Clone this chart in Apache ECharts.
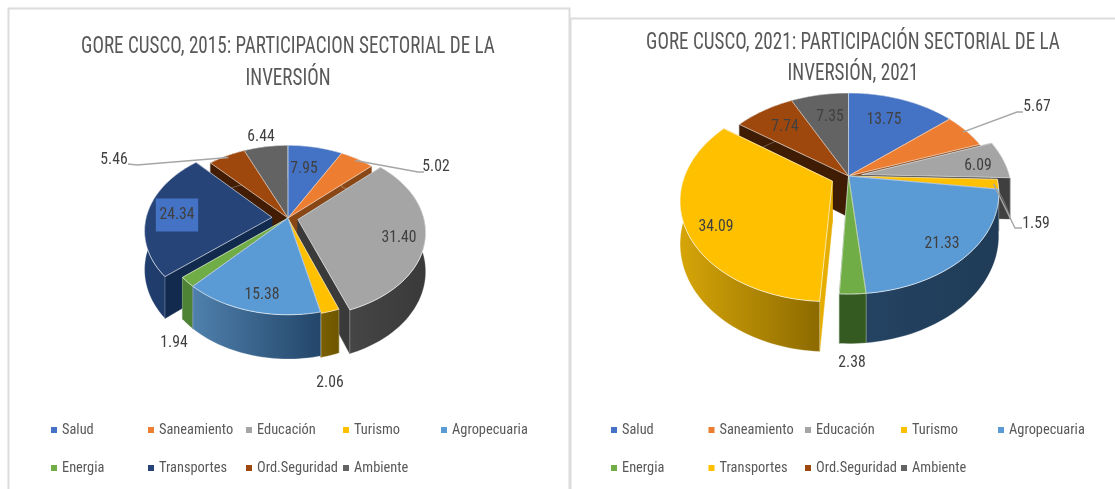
<!DOCTYPE html>
<html><head><meta charset="utf-8">
<style>html,body{margin:0;padding:0;background:#fff}#c{width:1115px;height:489px}</style>
<script src="https://cdn.jsdelivr.net/npm/echarts@6/dist/echarts.min.js"></script>
</head><body><div id="c"></div>
<script>
const categories = ['Salud','Saneamiento','Educación','Turismo','Agropecuaria','Energia','Transportes','Ord.Seguridad','Ambiente'];
const values2015 = [7.95,5.02,31.40,2.06,15.38,1.94,24.34,5.46,6.44];
const values2021 = [13.75,5.67,6.09,1.59,21.33,2.38,34.09,7.74,7.35];
const labels2015 = ['7.95','5.02','31.40','2.06','15.38','1.94','24.34','5.46','6.44'];
const labels2021 = ['13.75','5.67','6.09','1.59','21.33','2.38','34.09','7.74','7.35'];
const title2015 = 'GORE CUSCO, 2015: PARTICIPACION SECTORIAL DE LA\nINVERSIÓN';
const title2021 = 'GORE CUSCO, 2021: PARTICIPACIÓN SECTORIAL DE LA\nINVERSIÓN, 2021';

// styles: [outer wall left, outer wall right, radial wall]
const top2015 = ['#4472c4','#ed7d31','#a5a5a5','#ffc000','#5b9bd5','#70ad47','#264478','#9e480e','#636363'];
const top2021 = ['#4472c4','#ed7d31','#a5a5a5','#ffc000','#5b9bd5','#70ad47','#ffc000','#9e480e','#636363'];
const wall2015 = [['#24406f','#24406f','#24406f'],['#8a4716','#8a4716','#8a4716'],['#454545','#3a3a3a','#3a3a3a'],['#7a6000','#6e5600','#6e5600'],['#4f80ad','#234669','#234669'],['#4e8234','#4e8234','#3c6226'],['#1f3d6e','#1f3864','#122a4e'],['#421d04','#421d04','#421d04'],['#333','#333','#333']];
const wall2021 = [['#24406f','#24406f','#24406f'],['#8a4716','#8a4716','#8a4716'],['#3f3f3f','#3f3f3f','#3f3f3f'],['#c49a10','#8a6a00','#8a6a00'],['#244362','#1f3b57','#1f3b57'],['#345a22','#345a22','#345a22'],['#d6a508','#8c6a00','#e6ae00'],['#3f1c04','#3f1c04','#3f1c04'],['#333','#333','#333']];

// layout of each pie: centre, radii, perspective, depth, per-slice explosion
const geo2015 = {cx:288,cy:218,rx:126,ry:83,k:0.142,d:38,explode:[0,0,0.08,0.012,0,0,0.127,0,0]};
const geo2021 = {cx:848.5,cy:176,rx:148,ry:97.5,k:0.174,d:41,explode:[0,0,0.09,0,0,0,0.12,0,0]};
const labelPos2015 = [[304,169],[436,167],[399,238],[330,383],[262,295],[174,343],[177,215],[114,160],[261,137]];
const labelPos2021 = [[884,120],[1037,107],[978,166],[1036,224],[942,244],[852,363],[716,227],[785,127],[830,117]];
const leader2015 = {1:[[418,172],[424,172]],7:[[137,165],[128,164]]};
const leader2021 = {1:[[1017,112],[1023,112]],3:[[1015,228],[1022,228]]};
const legendX2015 = [54,151,249,346,444,54,151,249,346];
const legendX2021 = [614,711.5,808,904,1001,614,711.5,808,904];
const legendY = [429,429,429,429,429,467,467,467,467];
const FONT = '"Roboto Condensed","Liberation Sans Narrow",Roboto,sans-serif';
const TEXT_SQUEEZE = 0.92, TITLE_SQUEEZE = 0.78;

function makePie(values, labels, tops, walls, g, labelPos, leaders){
  const total = values.reduce((a,b)=>a+b,0);
  const ang = []; let acc = 0;
  values.forEach(v=>{const a0=acc/total*2*Math.PI; acc+=v; ang.push([a0,acc/total*2*Math.PI]);});
  const P = (t,r,i,depth)=>{
    const m=(ang[i][0]+ang[i][1])/2, e=g.explode[i];
    const X=r*Math.sin(t)+e*Math.sin(m), Y=-r*Math.cos(t)-e*Math.cos(m);
    const s=1/(1-g.k*Y);
    return [g.cx+g.rx*X*s, g.cy+g.ry*Y*s+depth*g.d*s];
  };
  const order = values.map((_,i)=>i).sort((a,b)=>
    (-Math.cos((ang[a][0]+ang[a][1])/2))-(-Math.cos((ang[b][0]+ang[b][1])/2)));
  return order.map((i,rank)=>({
    type:'custom', name:categories[i], coordinateSystem:'none', silent:true, animation:false,
    itemStyle:{color:tops[i]}, data:[[values[i]]],
    renderItem(params,api){
      const t0=ang[i][0], t1=t0+api.value(0)/total*2*Math.PI, n=Math.max(6,Math.ceil((t1-t0)/0.03));
      const rim=[],rimB=[];
      for(let j=0;j<=n;j++){const t=t0+(t1-t0)*j/n; rim.push(P(t,1,i,0)); rimB.push(P(t,1,i,1));}
      const A=P(0,0,i,0), B=P(0,0,i,1);
      const dark=walls[i][2], grad=new echarts.graphic.LinearGradient(0,0,1,0,[{offset:0,color:walls[i][0]},{offset:1,color:walls[i][1]}]);
      const edge={stroke:'rgba(255,255,255,0.75)',lineWidth:0.8};
      const ch=[
        {type:'polygon',z2:rank,shape:{points:[A,rim[0],rimB[0],B]},style:{fill:dark,stroke:dark,lineWidth:.5}},
        {type:'polygon',z2:rank,shape:{points:[A,rim[n],rimB[n],B]},style:{fill:dark,stroke:dark,lineWidth:.5}},
        {type:'polygon',z2:rank,shape:{points:rim.concat(rimB.slice().reverse())},style:{fill:grad,stroke:'rgba(255,255,255,0.45)',lineWidth:0.6}},
        {type:'polygon',z2:rank,shape:{points:[A].concat(rim)},style:Object.assign({fill:tops[i]},edge)}
      ];
      const lp=labelPos[i];
      if(leaders[i]){
        const tm=(t0+t1)/2;
        ch.push({type:'polyline',z2:150,shape:{points:[P(tm,0.97,i,0)].concat(leaders[i])},style:{stroke:'#a6a6a6',lineWidth:1.4,fill:'none'}});
      }
      const boxed = values===values2015 && i===6;
      ch.push({type:'text',z2:200,x:lp[0],y:lp[1],scaleX:TEXT_SQUEEZE,style:Object.assign({text:labels[i],fill:'#404040',font:'17px '+FONT,align:'center',verticalAlign:'middle'},
        boxed?{backgroundColor:'#4472c4',padding:[8,4]}:{})});
      return {type:'group',children:ch};
    }
  }));
}
const legendOf=(xs,tops)=>categories.map((c,i)=>({
  left:xs[i]-3, top:legendY[i]-6, itemWidth:6, itemHeight:6, itemGap:0, icon:'rect', selectedMode:false,
  padding:0, textStyle:{color:'#595959',fontSize:14.4,fontFamily:FONT},
  data:[{name:c,itemStyle:{color:tops[i]}}]
}));
const titleText=(text,x,y,lh)=>({type:'text',silent:true,z:5,x:x,y:y,scaleX:TITLE_SQUEEZE,
  style:{text:text,fill:'#595959',font:'24.5px '+FONT,align:'center',verticalAlign:'top',lineHeight:lh}});
const chart=echarts.init(document.getElementById('c'),null,{renderer:'canvas'});
chart.setOption({
  backgroundColor:'#fff', animation:false,
  graphic:[
    {type:'rect',silent:true,z:-1,shape:{x:8.5,y:8.5,width:561,height:490},style:{fill:'#fff',stroke:'#dcdcdc',lineWidth:2}},
    {type:'rect',silent:true,z:-1,shape:{x:570.5,y:18.5,width:560,height:490},style:{fill:'#fff',stroke:'#dcdcdc',lineWidth:2}},
    titleText(title2015,288,31,32),
    titleText(title2021,853,27,31)
  ],
  legend:legendOf(legendX2015,top2015).concat(legendOf(legendX2021,top2021)),
  series:makePie(values2015,labels2015,top2015,wall2015,geo2015,labelPos2015,leader2015)
    .concat(makePie(values2021,labels2021,top2021,wall2021,geo2021,labelPos2021,leader2021))
});
</script></body></html>
